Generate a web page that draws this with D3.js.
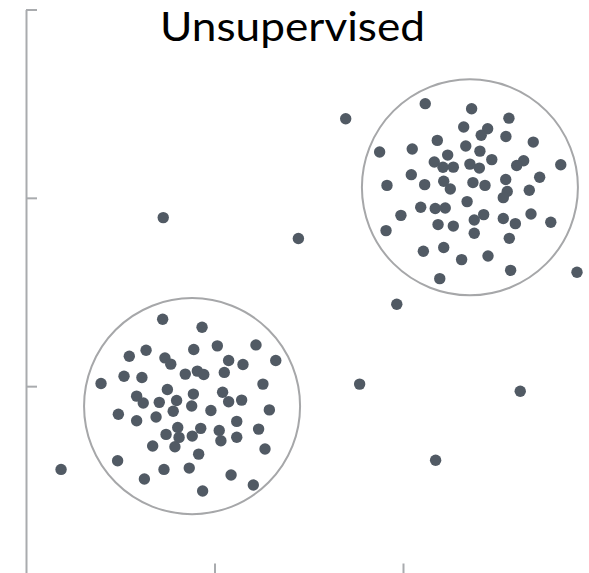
<!DOCTYPE html>
<html>
<head>
<meta charset="utf-8">
<script src="https://cdn.jsdelivr.net/npm/d3@7"></script>
<style>
  body { margin: 0; background: #fff; }
  .axis path, .axis line { stroke: #a9abae; stroke-width: 2; }
</style>
</head>
<body>
<div id="chart"></div>
<script>
// points inside the lower-left group
var clusterA = [
  [0.725, 1.355], [0.934, 1.313], [0.637, 1.191], [0.548, 1.159], [0.737, 1.150],
  [0.768, 1.117], [0.890, 1.195], [1.015, 1.214], [1.220, 1.219], [1.325, 1.136],
  [1.075, 1.136], [1.151, 1.115], [0.845, 1.064], [0.909, 1.080], [0.943, 1.062],
  [1.052, 1.073], [0.520, 1.053], [0.615, 1.046], [0.398, 1.014], [1.257, 1.011],
  [0.750, 0.982], [0.888, 0.958], [1.043, 0.968], [0.587, 0.947], [0.622, 0.911],
  [0.707, 0.914], [0.799, 0.924], [0.879, 0.895], [1.075, 0.917], [1.144, 0.926],
  [0.781, 0.867], [0.981, 0.871], [1.291, 0.874], [0.490, 0.851], [0.587, 0.816],
  [0.690, 0.836], [1.118, 0.813], [0.805, 0.781], [0.927, 0.776], [1.025, 0.765],
  [1.234, 0.772], [0.743, 0.744], [0.812, 0.728], [0.882, 0.735], [1.034, 0.710],
  [1.118, 0.729], [0.672, 0.682], [0.790, 0.678], [1.268, 0.666], [0.916, 0.639],
  [0.486, 0.604], [0.732, 0.558], [0.866, 0.565], [1.088, 0.528], [0.628, 0.507],
  [1.206, 0.475], [0.937, 0.443]
];

// points inside the upper-right group
var clusterB = [
  [2.118, 2.500], [2.364, 2.473], [2.562, 2.423], [2.322, 2.376], [2.449, 2.367],
  [2.415, 2.332], [2.546, 2.326], [2.182, 2.305], [2.691, 2.296], [1.876, 2.243],
  [2.049, 2.259], [2.333, 2.275], [2.408, 2.248], [2.237, 2.227], [2.166, 2.190],
  [2.212, 2.162], [2.267, 2.163], [2.355, 2.179], [2.405, 2.158], [2.471, 2.203],
  [2.640, 2.197], [2.603, 2.172], [2.837, 2.176], [2.044, 2.123], [1.915, 2.066],
  [2.115, 2.070], [2.216, 2.088], [2.251, 2.047], [2.371, 2.081], [2.435, 2.066],
  [2.545, 2.097], [2.725, 2.109], [2.553, 2.034], [2.532, 2.001], [2.670, 2.040],
  [2.340, 1.980], [2.094, 1.950], [2.171, 1.943], [2.224, 1.946], [1.989, 1.907],
  [2.428, 1.911], [2.378, 1.882], [2.532, 1.890], [2.596, 1.863], [2.679, 1.914],
  [2.784, 1.870], [2.186, 1.858], [2.267, 1.850], [1.910, 1.826], [2.378, 1.812],
  [2.564, 1.785], [2.108, 1.716], [2.216, 1.736], [2.311, 1.672], [2.451, 1.691],
  [2.571, 1.615], [2.195, 1.571]
];

// stray points
var outliers = [
  [0.186, 0.558], [0.728, 1.895], [1.445, 1.784], [1.696, 2.420], [1.967, 1.435],
  [1.770, 1.011], [2.622, 0.973], [2.173, 0.607], [2.923, 1.605]
];

// group outlines: [cx, cy, r] in data units
var groups = [
  [0.881, 0.894, 0.573],
  [2.355, 2.056, 0.573]
];

var xTicks = [1, 2];
var yTicks = [1, 2, 3];
var title = "Unsupervised";

var W = 589, H = 573;
var margin = { top: 9.5, left: 26 },
  width = 565.5,
  height = 565;

var svg = d3
  .select("#chart")
  .append("svg")
  .attr("width", W)
  .attr("height", H);

var g = svg
  .append("g")
  .attr("transform", "translate(" + margin.left + "," + margin.top + ")");

var x = d3.scaleLinear().domain([0, 3]).range([0, width]);
var y = d3.scaleLinear().domain([0, 3]).range([height, 0]);

// y axis with ticks pointing inward
g.append("g")
  .attr("class", "axis")
  .call(d3.axisRight(y).tickValues(yTicks).tickSize(11).tickSizeOuter(0).tickFormat(""));

// x axis sits at the bottom edge, ticks point up
g.append("g")
  .attr("class", "axis")
  .attr("transform", "translate(0," + height + ")")
  .call(d3.axisTop(x).tickValues(xTicks).tickSize(11).tickSizeOuter(0).tickFormat(""));

g.selectAll(".group")
  .data(groups)
  .enter()
  .append("circle")
  .attr("class", "group")
  .attr("cx", function (d) { return x(d[0]); })
  .attr("cy", function (d) { return y(d[1]); })
  .attr("r", function (d) { return x(d[2]) - x(0); })
  .style("fill", "none")
  .style("stroke", "#a6a7a9")
  .style("stroke-width", 2);

var allPoints = clusterA.concat(clusterB, outliers);

g.selectAll(".dot")
  .data(allPoints)
  .enter()
  .append("circle")
  .attr("class", "dot")
  .attr("cx", function (d) { return x(d[0]); })
  .attr("cy", function (d) { return y(d[1]); })
  .attr("r", 5.7)
  .style("fill", "#515a64");

svg
  .append("text")
  .attr("x", 292.5)
  .attr("y", 41)
  .attr("text-anchor", "middle")
  .attr("textLength", 265)
  .attr("lengthAdjust", "spacingAndGlyphs")
  .style("font-family", "Lato, 'Open Sans', sans-serif")
  .style("font-size", "41px")
  .style("fill", "#000")
  .text(title);
</script>
</body>
</html>
